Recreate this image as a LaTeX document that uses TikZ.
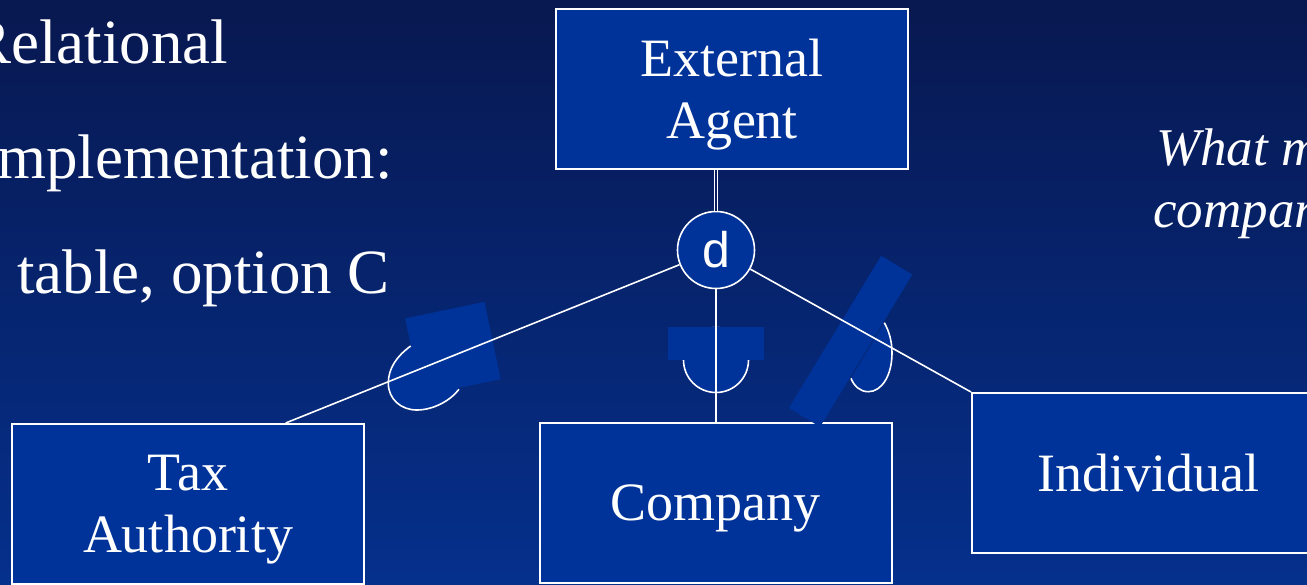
\documentclass[tikz,border=0pt]{standalone}
\usepackage{fontspec}
\setmainfont{Liberation Serif}
\newfontfamily\sansd{Liberation Sans}
\usepackage{xcolor}
\usetikzlibrary{calc}
\definecolor{bgtop}{RGB}{8, 24, 80}
\definecolor{bgbot}{RGB}{5, 48, 140}
\definecolor{bgmid}{RGB}{8, 30, 96}
\definecolor{ent}{RGB}{0, 51, 153}

\tikzset{
  entity/.style={draw=white, line width=2pt, fill=ent, text=white, inner sep=0pt,
    minimum width=352pt, minimum height=160pt, align=center, text depth=0pt,
    font=\fontsize{54}{62}\selectfont},
  link/.style={draw=white, line width=1.6pt},
  patch/.style={fill=ent, draw=none, inner sep=0pt},
  arcline/.style={draw=white, line width=1.6pt},
  talk/.style={text=white, inner sep=0pt, anchor=base west,
    font=\fontsize{63}{74}\selectfont}
}

\begin{document}
\begin{tikzpicture}[x=1pt, y=-1pt]
      \useasboundingbox (0,0) rectangle (1307,584);
      \shade[top color=bgtop, bottom color=bgbot] (0,0) rectangle (1307,584);
      % text on the slide
      \node[talk] (l1) at (-31,63) {Relational};
      \node[talk] (l2) at (-24,178) {Implementation:};
      \node[talk] (l3) at (17,293) {table, option C};
      \node[talk, font=\fontsize{53}{62}\selectfont\itshape] (q1) at (1156,165) {What m};
      \node[talk, font=\fontsize{53}{62}\selectfont\itshape] (q2) at (1153,227) {compar};
      % entities
      \node[entity] (ea) at (732,89) {External\\Agent};
      \node[entity] (tax) at (188,504) {Tax\\Authority};
      \node[entity] (comp) at (715.5,503) {Company};
      \node[entity] (ind) at (1148,473) {Individual};
      \node[circle, draw=white, line width=1.6pt, fill=ent, minimum size=77pt, inner sep=0pt,
        text=white, font=\sansd\fontsize{50}{50}\selectfont] (d) at (716,250) {d};
      % subset marks
      \filldraw[fill=ent, arcline] (716,360) circle (32.5);
      \node[patch, minimum width=96pt, minimum height=33pt] (pm) at (716,343.5) {};
      \node[patch, minimum width=81pt, minimum height=79pt, rotate=11.8] (pl) at (452.9,348.8) {};
      \filldraw[fill=ent, arcline] (410.7,346) .. controls (397,356) and (388.3,368) .. (388.3,383.3)
        .. controls (388.3,399) and (401,410) .. (416.7,410)
        .. controls (433,410) and (450,401) .. (459,389.3);
      \node[patch, minimum width=178pt, minimum height=36.4pt, rotate=58.8] (pr) at (850.6,341.3) {};
      \filldraw[fill=ent, arcline] (884.3,322.7) .. controls (889,331) and (892,341) .. (892,353)
        .. controls (892,375) and (882,391.7) .. (868.3,391.7)
        .. controls (860,391.7) and (854,386) .. (851,378.3);
      % connectors
      \draw[white, line width=1.2pt, double=bgmid, double distance=2.4pt] (ea.south -| d) -- (d.north);
      \draw[link] (d) -- ($(tax.north west)!0.776!(tax.north east)$);
      \draw[link] (d) -- (d |- comp.north);
      \draw[link] (d) -- (ind.north west);
\end{tikzpicture}
\end{document}
